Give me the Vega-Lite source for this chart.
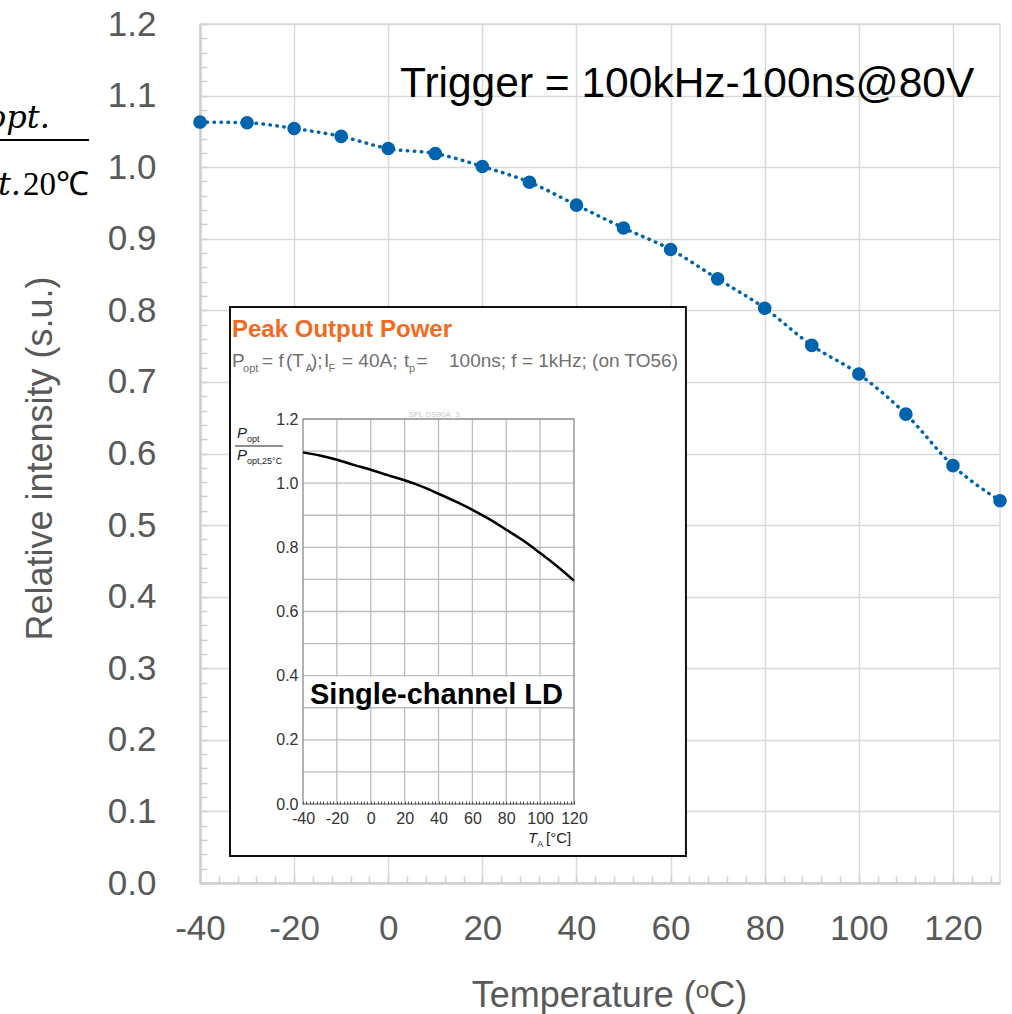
{
  "$schema": "https://vega.github.io/schema/vega-lite/v6.json",
  "width": 800,
  "height": 859,
  "autosize": {"type": "none"},
  "padding": {"left": 200, "top": 24, "right": 12, "bottom": 131},
  "background": "white",
  "config": {"view": {"stroke": "#d9d9d9", "strokeWidth": 1.5}, "font": "Liberation Sans"},
  "datasets": {
    "main": [
      {"temp": -40, "intensity": 1.063}, {"temp": -30, "intensity": 1.062}, {"temp": -20, "intensity": 1.054},
      {"temp": -10, "intensity": 1.043}, {"temp": 0, "intensity": 1.026}, {"temp": 10, "intensity": 1.019},
      {"temp": 20, "intensity": 1.001}, {"temp": 30, "intensity": 0.979}, {"temp": 40, "intensity": 0.947},
      {"temp": 50, "intensity": 0.915}, {"temp": 60, "intensity": 0.885}, {"temp": 70, "intensity": 0.844},
      {"temp": 80, "intensity": 0.803}, {"temp": 90, "intensity": 0.751}, {"temp": 100, "intensity": 0.711},
      {"temp": 110, "intensity": 0.655}, {"temp": 120, "intensity": 0.583}, {"temp": 130, "intensity": 0.534}
    ],
    "notes": [
      {"t": 2.5, "v": 1.098, "text": "Trigger = 100kHz-100ns@80V", "kind": "trigger"},
      {"t": -71.9, "v": 1.0547, "text": "Popt.", "kind": "fracItalic"},
      {"t": -78.04, "v": 0.961, "text": "Popt.", "kind": "fracItalic"},
      {"t": -77.61, "v": 0.961, "text": "20℃", "kind": "fracUpright"}
    ],
    "fracLine": [{"t1": -90, "t2": -63.6, "v": 1.038}],
    "insetBox": [{"t1": -83.1, "t2": 186.1, "v1": -0.162, "v2": 1.549}],
    "insetFrame": [{"t1": -40, "t2": 120, "v1": 0, "v2": 1.2}],
    "ldBox": [{"t1": -38.8, "t2": 118.8, "v1": 0.303, "v2": 0.397}],
    "insetGridX": [{"gx": -20}, {"gx": 0}, {"gx": 20}, {"gx": 40}, {"gx": 60}, {"gx": 80}, {"gx": 100}],
    "insetGridY": [{"gy": 0.1}, {"gy": 0.2}, {"gy": 0.3}, {"gy": 0.4}, {"gy": 0.5}, {"gy": 0.6}, {"gy": 0.7}, {"gy": 0.8}, {"gy": 0.9}, {"gy": 1.0}, {"gy": 1.1}],
    "insetCurve": [
      {"t": -40, "v": 1.096}, {"t": -30, "v": 1.086}, {"t": -20, "v": 1.073}, {"t": -10, "v": 1.057},
      {"t": 0, "v": 1.042}, {"t": 10, "v": 1.025}, {"t": 20, "v": 1.009}, {"t": 30, "v": 0.990},
      {"t": 40, "v": 0.967}, {"t": 50, "v": 0.943}, {"t": 60, "v": 0.917}, {"t": 70, "v": 0.888},
      {"t": 80, "v": 0.855}, {"t": 90, "v": 0.821}, {"t": 100, "v": 0.782}, {"t": 110, "v": 0.741},
      {"t": 120, "v": 0.696}
    ],
    "insetYTitleLine": [{"t1": -80.15, "t2": -51.81, "v": 1.1159}],
    "insetText": [
      {"t": -81.92, "v": 1.4556, "text": "Peak Output Power", "kind": "title"},
      {"t": -81.92, "v": 1.3621, "text": "P", "kind": "sub"},
      {"t": -64.2, "v": 1.3621, "text": "= f", "kind": "sub"},
      {"t": -50.04, "v": 1.3621, "text": "(T", "kind": "sub"},
      {"t": -35.3, "v": 1.3621, "text": ");", "kind": "sub"},
      {"t": -27.6, "v": 1.3621, "text": "I", "kind": "sub"},
      {"t": -17.0, "v": 1.3621, "text": "= 40A;", "kind": "sub"},
      {"t": 19.6, "v": 1.3621, "text": "t", "kind": "sub"},
      {"t": 27.0, "v": 1.3621, "text": "=", "kind": "sub"},
      {"t": 46.2, "v": 1.3621, "text": "100ns; f = 1kHz; (on TO56)", "kind": "sub"},
      {"t": -75.42, "v": 1.3621, "text": "opt", "kind": "subsmall"},
      {"t": -38.5, "v": 1.3621, "text": "A", "kind": "subsmall"},
      {"t": -25.0, "v": 1.3621, "text": "F", "kind": "subsmall"},
      {"t": 22.6, "v": 1.3621, "text": "p", "kind": "subsmall"},
      {"t": -78.97, "v": 1.1408, "text": "P", "kind": "ital"},
      {"t": -78.97, "v": 1.0722, "text": "P", "kind": "ital"},
      {"t": 92.84, "v": -0.1216, "text": "T", "kind": "ital"},
      {"t": -73.06, "v": 1.1408, "text": "opt", "kind": "italsub"},
      {"t": -73.06, "v": 1.0722, "text": "opt,25°C", "kind": "italsub"},
      {"t": 98.3, "v": -0.1216, "text": "A", "kind": "italsub"},
      {"t": 103.5, "v": -0.1216, "text": "[°C]", "kind": "plain"},
      {"t": 37.34, "v": 1.2062, "text": "SPL DS90A_3", "kind": "spl"},
      {"t": -35.87, "v": 0.3117, "text": "Single-channel LD", "kind": "ld"}
    ]
  },
  "layer": [
    {
      "data": {"name": "main"},
      "mark": {"type": "line", "color": "#0063AE", "strokeWidth": 3.5, "strokeDash": [0.5, 6.5], "strokeCap": "round", "interpolate": "monotone"},
      "encoding": {
        "x": {"field": "temp", "type": "quantitative", "scale": {"domain": [-40, 130], "nice": false, "zero": false},
          "axis": {"orient": "bottom", "values": [-40, -20, 0, 20, 40, 60, 80, 100, 120], "labelExpr": "'' + datum.value",
            "grid": true, "gridColor": "#d9d9d9", "gridWidth": 1.5, "ticks": false,
            "domainColor": "#cfcfcf", "domainWidth": 2.5,
            "labelFont": "Liberation Sans", "labelFontSize": 35, "labelColor": "#595959", "labelPadding": 28, "labelFlush": false, "labelOverlap": false,
            "title": "Temperature (ᵒC)", "titleFont": "Liberation Sans", "titleFontSize": 36, "titleFontWeight": "normal", "titleColor": "#595959",
            "titleX": 409, "titleY": 123, "titleBaseline": "alphabetic", "titleAlign": "center"}},
        "y": {"field": "intensity", "type": "quantitative", "scale": {"domain": [0, 1.2], "nice": false, "zero": false},
          "axis": {"orient": "left", "values": [0, 0.1, 0.2, 0.3, 0.4, 0.5, 0.6, 0.7, 0.8, 0.9, 1.0, 1.1, 1.2], "labelExpr": "format(datum.value, '.1f')",
            "grid": true, "gridColor": "#d9d9d9", "gridWidth": 1.5, "ticks": false,
            "domainColor": "#cfcfcf", "domainWidth": 2.5,
            "labelFont": "Liberation Sans", "labelFontSize": 35, "labelColor": "#595959", "labelPadding": 44, "labelFlush": false, "labelOverlap": false,
            "title": "Relative intensity (s.u.)", "titleFont": "Liberation Sans", "titleFontSize": 36, "titleFontWeight": "normal", "titleColor": "#595959",
            "titleX": -149, "titleY": 434, "titleAngle": -90, "titleBaseline": "alphabetic", "titleAlign": "center"}}
      }
    },
    {
      "data": {"name": "main"},
      "mark": {"type": "point", "filled": true, "size": 185, "color": "#0063AE", "opacity": 1},
      "encoding": {
        "x": {"field": "temp", "type": "quantitative", "scale": {"domain": [-40, 130], "nice": false, "zero": false}, "axis": null},
        "y": {"field": "intensity", "type": "quantitative", "scale": {"domain": [0, 1.2], "nice": false, "zero": false}, "axis": null}
      }
    },
    {
      "data": {"name": "notes"},
      "transform": [{"filter": "datum.kind === 'trigger'"}],
      "mark": {"type": "text", "fontSize": 42.5, "font": "Liberation Sans", "color": "#000000", "align": "left", "baseline": "alphabetic"},
      "encoding": {
        "x": {"field": "t", "type": "quantitative", "scale": {"domain": [-40, 130], "nice": false, "zero": false}, "axis": null},
        "y": {"field": "v", "type": "quantitative", "scale": {"domain": [0, 1.2], "nice": false, "zero": false}, "axis": null},
        "text": {"field": "text"}
      }
    },
    {
      "data": {"name": "notes"},
      "transform": [{"filter": "datum.kind === 'fracItalic'"}],
      "mark": {"type": "text", "fontSize": 32, "font": "DejaVu Serif", "fontStyle": "italic", "color": "#000000", "align": "right", "baseline": "alphabetic"},
      "encoding": {
        "x": {"field": "t", "type": "quantitative", "scale": {"domain": [-40, 130], "nice": false, "zero": false}, "axis": null},
        "y": {"field": "v", "type": "quantitative", "scale": {"domain": [0, 1.2], "nice": false, "zero": false}, "axis": null},
        "text": {"field": "text"}
      }
    },
    {
      "data": {"name": "notes"},
      "transform": [{"filter": "datum.kind === 'fracUpright'"}],
      "mark": {"type": "text", "fontSize": 33, "font": "Liberation Serif", "color": "#000000", "align": "left", "baseline": "alphabetic"},
      "encoding": {
        "x": {"field": "t", "type": "quantitative", "scale": {"domain": [-40, 130], "nice": false, "zero": false}, "axis": null},
        "y": {"field": "v", "type": "quantitative", "scale": {"domain": [0, 1.2], "nice": false, "zero": false}, "axis": null},
        "text": {"field": "text"}
      }
    },
    {
      "data": {"name": "fracLine"},
      "mark": {"type": "rule", "color": "#000000", "strokeWidth": 2},
      "encoding": {
        "x": {"field": "t1", "type": "quantitative", "scale": {"domain": [-40, 130], "nice": false, "zero": false}, "axis": null},
        "x2": {"field": "t2"},
        "y": {"field": "v", "type": "quantitative", "scale": {"domain": [0, 1.2], "nice": false, "zero": false}, "axis": null}
      }
    },
    {
      "data": {"name": "main"},
      "mark": {"type": "point", "opacity": 0},
      "encoding": {
        "x": {"field": "temp", "type": "quantitative", "scale": {"domain": [-40, 130], "nice": false, "zero": false},
          "axis": {"orient": "bottom", "values": [-40, -36, -32, -28, -24, -20, -16, -12, -8, -4, 0, 4, 8, 12, 16, 20, 24, 28, 32, 36, 40, 44, 48, 52, 56, 60, 64, 68, 72, 76, 80, 84, 88, 92, 96, 100, 104, 108, 112, 116, 120, 124, 128],
            "tickSize": -7, "tickColor": "#cfcfcf", "tickWidth": 1.5, "labels": false, "domain": false, "grid": false, "title": null}},
        "y": {"field": "intensity", "type": "quantitative", "scale": {"domain": [0, 1.2], "nice": false, "zero": false},
          "axis": {"orient": "left", "values": [0, 0.02, 0.04, 0.06, 0.08, 0.1, 0.12, 0.14, 0.16, 0.18, 0.2, 0.22, 0.24, 0.26, 0.28, 0.3, 0.32, 0.34, 0.36, 0.38, 0.4, 0.42, 0.44, 0.46, 0.48, 0.5, 0.52, 0.54, 0.56, 0.58, 0.6, 0.62, 0.64, 0.66, 0.68, 0.7, 0.72, 0.74, 0.76, 0.78, 0.8, 0.82, 0.84, 0.86, 0.88, 0.9, 0.92, 0.94, 0.96, 0.98, 1.0, 1.02, 1.04, 1.06, 1.08, 1.1, 1.12, 1.14, 1.16, 1.18, 1.2],
            "tickSize": -7, "tickColor": "#cfcfcf", "tickWidth": 1.5, "labels": false, "domain": false, "grid": false, "title": null}}
      }
    },
    {
      "data": {"name": "insetBox"},
      "mark": {"type": "rect", "fill": "#ffffff", "stroke": "#111111", "strokeWidth": 2},
      "encoding": {
        "x": {"field": "t1", "type": "quantitative", "scale": {"domain": [-40, 120], "range": [103, 374], "nice": false, "zero": false},
          "axis": {"orient": "bottom", "offset": -79, "zindex": 1,
            "values": [-40, -38, -36, -34, -32, -30, -28, -26, -24, -22, -20, -18, -16, -14, -12, -10, -8, -6, -4, -2, 0, 2, 4, 6, 8, 10, 12, 14, 16, 18, 20, 22, 24, 26, 28, 30, 32, 34, 36, 38, 40, 42, 44, 46, 48, 50, 52, 54, 56, 58, 60, 62, 64, 66, 68, 70, 72, 74, 76, 78, 80, 82, 84, 86, 88, 90, 92, 94, 96, 98, 100, 102, 104, 106, 108, 110, 112, 114, 116, 118, 120],
            "labelExpr": "datum.value % 20 === 0 ? '' + datum.value : ''",
            "tickSize": -3, "tickColor": "#555555", "tickWidth": 1, "domain": false, "grid": false,
            "labelFont": "Liberation Sans", "labelFontSize": 16, "labelColor": "#333333", "labelPadding": 9, "labelFlush": false, "labelOverlap": false, "title": null}},
        "x2": {"field": "t2"},
        "y": {"field": "v1", "type": "quantitative", "scale": {"domain": [0, 1.2], "range": [780, 395], "nice": false, "zero": false},
          "axis": {"orient": "left", "offset": -103, "zindex": 1, "values": [0, 0.2, 0.4, 0.6, 0.8, 1.0, 1.2],
            "labelExpr": "format(datum.value, '.1f')", "ticks": false, "domain": false, "grid": false,
            "labelFont": "Liberation Sans", "labelFontSize": 16, "labelColor": "#333333", "labelPadding": 5, "labelFlush": false, "labelOverlap": false, "title": null}},
        "y2": {"field": "v2"}
      }
    },
    {
      "data": {"name": "insetGridX"},
      "mark": {"type": "rule", "color": "#bdbdbd", "strokeWidth": 1.3},
      "encoding": {
        "x": {"field": "gx", "type": "quantitative", "scale": {"domain": [-40, 120], "range": [103, 374], "nice": false, "zero": false}, "axis": null},
        "y": {"datum": 0, "type": "quantitative", "scale": {"domain": [0, 1.2], "range": [780, 395], "nice": false, "zero": false}, "axis": null},
        "y2": {"datum": 1.2}
      }
    },
    {
      "data": {"name": "insetGridY"},
      "mark": {"type": "rule", "color": "#bdbdbd", "strokeWidth": 1.3},
      "encoding": {
        "x": {"datum": -40, "type": "quantitative", "scale": {"domain": [-40, 120], "range": [103, 374], "nice": false, "zero": false}, "axis": null},
        "x2": {"datum": 120},
        "y": {"field": "gy", "type": "quantitative", "scale": {"domain": [0, 1.2], "range": [780, 395], "nice": false, "zero": false}, "axis": null}
      }
    },
    {
      "data": {"name": "ldBox"},
      "mark": {"type": "rect", "fill": "#ffffff"},
      "encoding": {
        "x": {"field": "t1", "type": "quantitative", "scale": {"domain": [-40, 120], "range": [103, 374], "nice": false, "zero": false}, "axis": null},
        "x2": {"field": "t2"},
        "y": {"field": "v1", "type": "quantitative", "scale": {"domain": [0, 1.2], "range": [780, 395], "nice": false, "zero": false}, "axis": null},
        "y2": {"field": "v2"}
      }
    },
    {
      "data": {"name": "insetFrame"},
      "mark": {"type": "rect", "fill": null, "fillOpacity": 0, "stroke": "#8a8a8a", "strokeWidth": 1.3},
      "encoding": {
        "x": {"field": "t1", "type": "quantitative", "scale": {"domain": [-40, 120], "range": [103, 374], "nice": false, "zero": false}, "axis": null},
        "x2": {"field": "t2"},
        "y": {"field": "v1", "type": "quantitative", "scale": {"domain": [0, 1.2], "range": [780, 395], "nice": false, "zero": false}, "axis": null},
        "y2": {"field": "v2"}
      }
    },
    {
      "data": {"name": "insetCurve"},
      "mark": {"type": "line", "color": "#000000", "strokeWidth": 2.5, "interpolate": "monotone"},
      "encoding": {
        "x": {"field": "t", "type": "quantitative", "scale": {"domain": [-40, 120], "range": [103, 374], "nice": false, "zero": false}, "axis": null},
        "y": {"field": "v", "type": "quantitative", "scale": {"domain": [0, 1.2], "range": [780, 395], "nice": false, "zero": false}, "axis": null}
      }
    },
    {
      "data": {"name": "insetYTitleLine"},
      "mark": {"type": "rule", "color": "#222222", "strokeWidth": 1.2},
      "encoding": {
        "x": {"field": "t1", "type": "quantitative", "scale": {"domain": [-40, 120], "range": [103, 374], "nice": false, "zero": false}, "axis": null},
        "x2": {"field": "t2"},
        "y": {"field": "v", "type": "quantitative", "scale": {"domain": [0, 1.2], "range": [780, 395], "nice": false, "zero": false}, "axis": null}
      }
    },
    {
      "data": {"name": "insetText"},
      "transform": [{"filter": "datum.kind === 'title'"}],
      "mark": {"type": "text", "fontSize": 24, "fontWeight": "bold", "font": "Liberation Sans", "color": "#F26A21", "align": "left", "baseline": "alphabetic"},
      "encoding": {
        "x": {"field": "t", "type": "quantitative", "scale": {"domain": [-40, 120], "range": [103, 374], "nice": false, "zero": false}, "axis": null},
        "y": {"field": "v", "type": "quantitative", "scale": {"domain": [0, 1.2], "range": [780, 395], "nice": false, "zero": false}, "axis": null},
        "text": {"field": "text"}
      }
    },
    {
      "data": {"name": "insetText"},
      "transform": [{"filter": "datum.kind === 'sub'"}],
      "mark": {"type": "text", "fontSize": 19, "font": "Liberation Sans", "color": "#707070", "align": "left", "baseline": "alphabetic"},
      "encoding": {
        "x": {"field": "t", "type": "quantitative", "scale": {"domain": [-40, 120], "range": [103, 374], "nice": false, "zero": false}, "axis": null},
        "y": {"field": "v", "type": "quantitative", "scale": {"domain": [0, 1.2], "range": [780, 395], "nice": false, "zero": false}, "axis": null},
        "text": {"field": "text"}
      }
    },
    {
      "data": {"name": "insetText"},
      "transform": [{"filter": "datum.kind === 'subsmall'"}],
      "mark": {"type": "text", "fontSize": 11, "font": "Liberation Sans", "color": "#707070", "align": "left", "baseline": "alphabetic", "dy": 5},
      "encoding": {
        "x": {"field": "t", "type": "quantitative", "scale": {"domain": [-40, 120], "range": [103, 374], "nice": false, "zero": false}, "axis": null},
        "y": {"field": "v", "type": "quantitative", "scale": {"domain": [0, 1.2], "range": [780, 395], "nice": false, "zero": false}, "axis": null},
        "text": {"field": "text"}
      }
    },
    {
      "data": {"name": "insetText"},
      "transform": [{"filter": "datum.kind === 'ital'"}],
      "mark": {"type": "text", "fontSize": 15, "font": "Liberation Sans", "fontStyle": "italic", "color": "#222222", "align": "left", "baseline": "alphabetic"},
      "encoding": {
        "x": {"field": "t", "type": "quantitative", "scale": {"domain": [-40, 120], "range": [103, 374], "nice": false, "zero": false}, "axis": null},
        "y": {"field": "v", "type": "quantitative", "scale": {"domain": [0, 1.2], "range": [780, 395], "nice": false, "zero": false}, "axis": null},
        "text": {"field": "text"}
      }
    },
    {
      "data": {"name": "insetText"},
      "transform": [{"filter": "datum.kind === 'italsub'"}],
      "mark": {"type": "text", "fontSize": 9, "font": "Liberation Sans", "color": "#222222", "align": "left", "baseline": "alphabetic", "dy": 4},
      "encoding": {
        "x": {"field": "t", "type": "quantitative", "scale": {"domain": [-40, 120], "range": [103, 374], "nice": false, "zero": false}, "axis": null},
        "y": {"field": "v", "type": "quantitative", "scale": {"domain": [0, 1.2], "range": [780, 395], "nice": false, "zero": false}, "axis": null},
        "text": {"field": "text"}
      }
    },
    {
      "data": {"name": "insetText"},
      "transform": [{"filter": "datum.kind === 'plain'"}],
      "mark": {"type": "text", "fontSize": 15, "font": "Liberation Sans", "color": "#222222", "align": "left", "baseline": "alphabetic"},
      "encoding": {
        "x": {"field": "t", "type": "quantitative", "scale": {"domain": [-40, 120], "range": [103, 374], "nice": false, "zero": false}, "axis": null},
        "y": {"field": "v", "type": "quantitative", "scale": {"domain": [0, 1.2], "range": [780, 395], "nice": false, "zero": false}, "axis": null},
        "text": {"field": "text"}
      }
    },
    {
      "data": {"name": "insetText"},
      "transform": [{"filter": "datum.kind === 'spl'"}],
      "mark": {"type": "text", "fontSize": 8, "font": "Liberation Sans", "color": "#c8c8c8", "align": "center", "baseline": "alphabetic"},
      "encoding": {
        "x": {"field": "t", "type": "quantitative", "scale": {"domain": [-40, 120], "range": [103, 374], "nice": false, "zero": false}, "axis": null},
        "y": {"field": "v", "type": "quantitative", "scale": {"domain": [0, 1.2], "range": [780, 395], "nice": false, "zero": false}, "axis": null},
        "text": {"field": "text"}
      }
    },
    {
      "data": {"name": "insetText"},
      "transform": [{"filter": "datum.kind === 'ld'"}],
      "mark": {"type": "text", "fontSize": 29, "fontWeight": "bold", "font": "Liberation Sans", "color": "#000000", "align": "left", "baseline": "alphabetic"},
      "encoding": {
        "x": {"field": "t", "type": "quantitative", "scale": {"domain": [-40, 120], "range": [103, 374], "nice": false, "zero": false}, "axis": null},
        "y": {"field": "v", "type": "quantitative", "scale": {"domain": [0, 1.2], "range": [780, 395], "nice": false, "zero": false}, "axis": null},
        "text": {"field": "text"}
      }
    }
  ],
  "resolve": {"scale": {"x": "independent", "y": "independent"}, "axis": {"x": "independent", "y": "independent"}}
}
